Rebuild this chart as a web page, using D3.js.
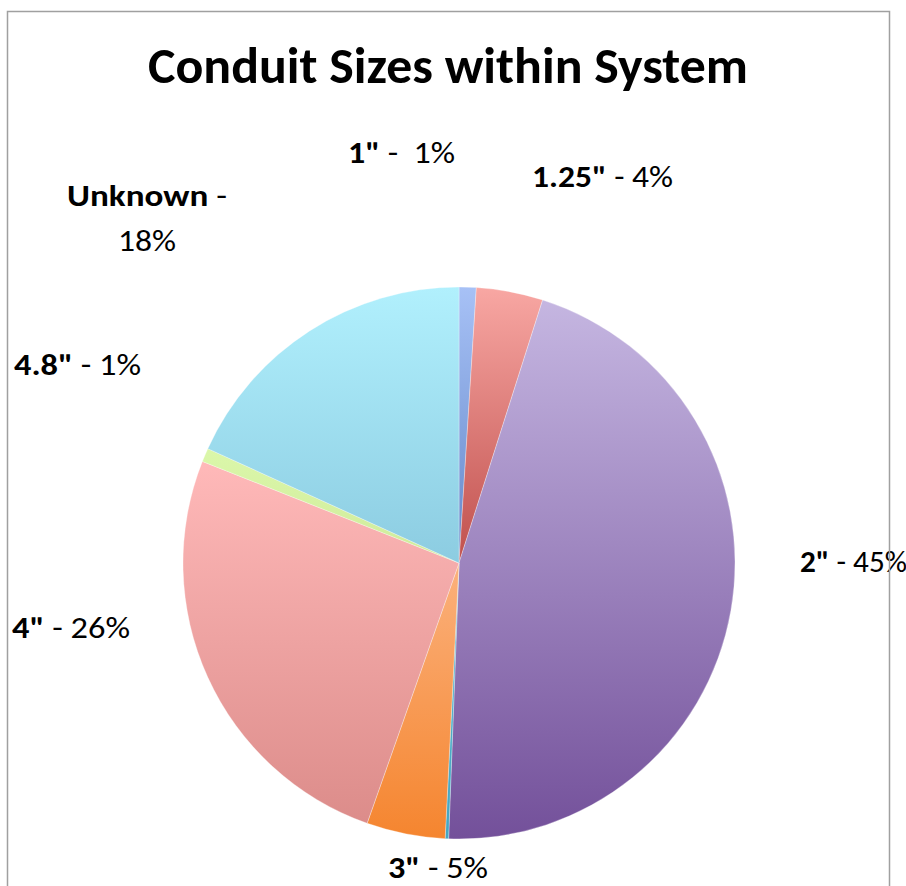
<!DOCTYPE html>
<html>
<head>
<meta charset="utf-8">
<script src="https://cdn.jsdelivr.net/npm/d3@7"></script>
<style>
  body { margin: 0; background: #fff; }
  text { font-family: Carlito, Calibri, "Open Sans", sans-serif; white-space: pre; }
</style>
</head>
<body>
<div id="chart"></div>
<script>
// slice data, clockwise from 12 o'clock
const sizes = ['1"', '1.25"', '2"', '2.5"', '3"', '4"', '4.8"', 'Unknown'];
const shares = [1.0, 3.9, 45.7, 0.2, 4.6, 25.6, 0.8, 18.2];
const pctLabels = ['1%', '4%', '45%', '', '5%', '26%', '1%', '18%'];

// gradient colours per slice: light (top) -> dark (bottom)
const topColors = ["#a7c1f6", "#f8a7a3", "#c5b6e1", "#56b8d0", "#fbb17c", "#ffb9b9", "#dbf7aa", "#b1f0fd"];
const bottomColors = ["#6387c8", "#c0504d", "#73509a", "#46a6c1", "#f5852f", "#dc8c8a", "#cfeb9b", "#8ccce1"];

const width = 906, height = 886;
const cx = 459, cy = 563, radius = 276;

const svg = d3.select("#chart")
    .append("svg")
    .attr("width", width)
    .attr("height", height);

const defs = svg.append("defs");
sizes.forEach(function(s, i) {
    const g = defs.append("linearGradient")
        .attr("id", "grad" + i)
        .attr("x1", 0).attr("y1", 0)
        .attr("x2", 0).attr("y2", 1);
    g.append("stop").attr("offset", "0%").attr("stop-color", topColors[i]);
    g.append("stop").attr("offset", "100%").attr("stop-color", bottomColors[i]);
});

const pie = d3.pie().sort(null).value(function(d) { return d; });
const arc = d3.arc().innerRadius(0).outerRadius(radius);

const pieG = svg.append("g").attr("transform", "translate(" + cx + "," + cy + ")");
pieG.selectAll("path")
    .data(pie(shares))
    .enter()
    .append("path")
        .attr("d", arc)
        .attr("fill", function(d, i) { return "url(#grad" + i + ")"; })
        .attr("stroke", "#ffffff")
        .attr("stroke-opacity", 0.5)
        .attr("stroke-width", 0.6);

// title
svg.append("text")
    .attr("x", 448)
    .attr("y", 83)
    .attr("text-anchor", "middle")
    .attr("font-size", 50)
    .attr("font-weight", "bold")
    .attr("textLength", 600)
    .attr("lengthAdjust", "spacingAndGlyphs")
    .text("Conduit Sizes within System");

// label layout (manually placed in the original chart): x, baseline, width
const labelLayout = {
    '1"':      [{ x: 348, y: 163, w: 107, sep: " -  " }],
    '1.25"':   [{ x: 532, y: 187, w: 141, sep: " - " }],
    '2"':      [{ x: 800, y: 572, w: 107, sep: " - " }],
    '3"':      [{ x: 388, y: 878, w: 100, sep: " - " }],
    '4"':      [{ x: 12,  y: 638, w: 118, sep: " - " }],
    '4.8"':    [{ x: 14,  y: 375, w: 127, sep: " - " }],
    'Unknown': [{ x: 67,  y: 206, w: 160, sep: " -", split: true }, { x: 118, y: 251, w: 58 }]
};

const fs = 30;
sizes.forEach(function(s, i) {
    const lay = labelLayout[s];
    if (!lay || pctLabels[i] === "") return;
    if (lay[0].split) {
        const t1 = svg.append("text")
            .attr("x", lay[0].x).attr("y", lay[0].y)
            .attr("font-size", fs)
            .attr("textLength", lay[0].w)
            .attr("lengthAdjust", "spacingAndGlyphs");
        t1.append("tspan").attr("font-weight", "bold").text(s);
        t1.append("tspan").text(lay[0].sep);
        svg.append("text")
            .attr("x", lay[1].x).attr("y", lay[1].y)
            .attr("font-size", fs)
            .attr("textLength", lay[1].w)
            .attr("lengthAdjust", "spacingAndGlyphs")
            .text(pctLabels[i]);
    } else {
        const t = svg.append("text")
            .attr("x", lay[0].x).attr("y", lay[0].y)
            .attr("font-size", fs)
            .attr("textLength", lay[0].w)
            .attr("lengthAdjust", "spacingAndGlyphs");
        t.append("tspan").attr("font-weight", "bold").text(s);
        t.append("tspan").text(lay[0].sep + pctLabels[i]);
    }
});

// chart frame
svg.append("path")
    .attr("d", "M7.5," + (height + 5) + "V11.5H889.5V" + (height + 5))
    .attr("fill", "none")
    .attr("stroke", "#a0a0a0")
    .attr("stroke-width", 1.5);
</script>
</body>
</html>
